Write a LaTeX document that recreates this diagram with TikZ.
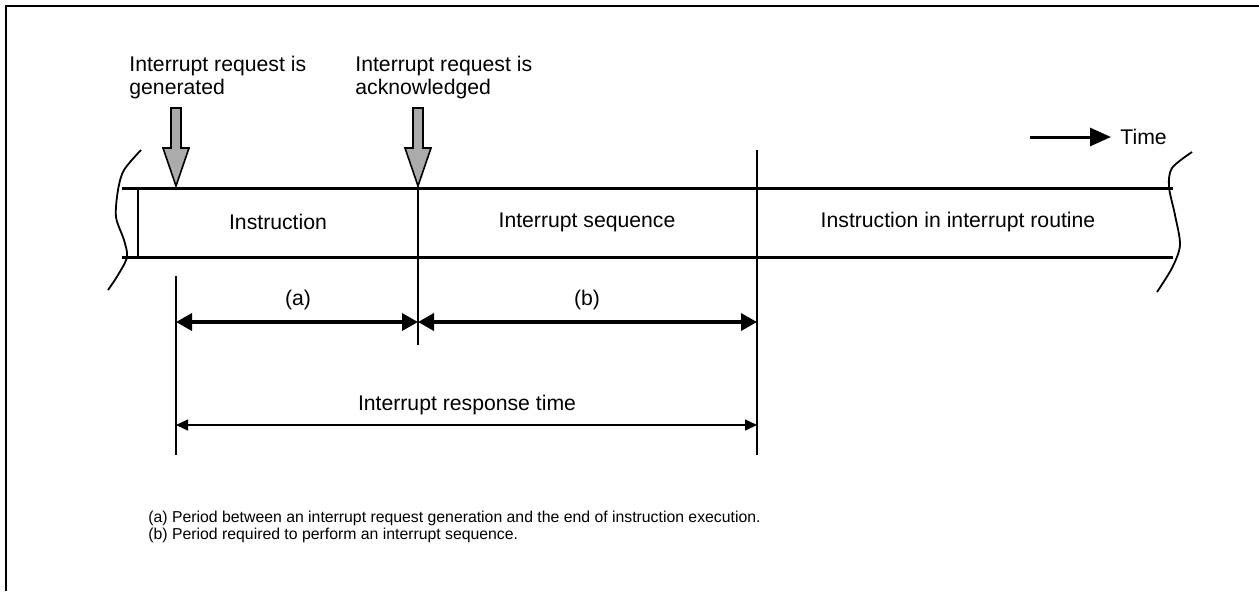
\documentclass[tikz,border=0pt]{standalone}
\usepackage{fontspec}
\setmainfont{Liberation Sans}
\usetikzlibrary{arrows.meta}

\begin{document}
\begin{tikzpicture}[
    x=0.5pt, y=-0.5pt,
    font=\fontsize{10.6}{11.3}\selectfont,
    band/.style={line width=1.5pt},
    divider/.style={line width=0.8pt},
    squiggle/.style={line width=0.9pt},
    reqarrow/.style={draw=black, line width=0.8pt, fill=black!33},
    dimline/.style={{Triangle[length=8pt,width=8.5pt]}-{Triangle[length=8pt,width=8.5pt]}, line width=1.8pt},
    spanline/.style={{Triangle[length=6pt,width=5.5pt]}-{Triangle[length=6pt,width=5.5pt]}, line width=0.7pt},
    timeline/.style={-{Triangle[length=10.5pt,width=9pt]}, line width=1.5pt},
    caption/.style={inner sep=0pt, align=left}
    ]

\useasboundingbox (0,0) rectangle (1259,591);

% outer frame (only top and left edge)
\draw[line width=1pt] (6,591) -- (6,6) -- (1259,6);

% points on the time line
\coordinate (gen)  at (176,188);
\coordinate (ack)  at (418,188);
\coordinate (done) at (757,188);

% the band
\draw[band] (122,188) -- (1173,188);
\draw[band] (122,257) -- (1173,257);
\draw[divider] (138,188) -- (138,257);
\draw[divider] (ack) -- (418,345);
\draw[divider] (757,150) -- (757,455);
\draw[divider] (176,276) -- (176,455);

% torn ends
\draw[squiggle] plot[smooth] coordinates {(141,150) (124,170) (118,190) (116,217) (124,240) (127,257) (118,275) (108,290)};
\draw[squiggle] plot[smooth] coordinates {(1192,152) (1172,168) (1169,187) (1175,215) (1180,245) (1172,268) (1157,292)};

% band contents
\node (instr) at (278,222) {Instruction};
\node (seq)   at (587,222) {Interrupt sequence};
\node (rout)  at (958,222) {Instruction in interrupt routine};

% request arrows
\foreach \c in {176,418}
  \draw[reqarrow] ({\c-5},108) -- ({\c+5},108) -- ({\c+5},148) -- ({\c+13},148)
    -- (\c,186) -- ({\c-13},148) -- ({\c-5},148) -- cycle;

\node[caption, anchor=north west] (genlbl) at (129,56) {Interrupt request is\\generated};
\node[caption, anchor=north west] (acklbl) at (355,56) {Interrupt request is\\acknowledged};

% time direction
\coordinate (t0) at (1030,137);
\coordinate (t1) at (1111,137);
\draw[timeline] (t0) -- (t1);
\node[anchor=west, inner sep=0pt] (time) at (1120,137) {Time};

% periods
\coordinate (a-l) at (176,322);
\coordinate (a-r) at (418,322);
\coordinate (b-r) at (757,322);
\draw[dimline] (a-l) -- (a-r);
\draw[dimline] (a-r) -- (b-r);
\node (alb) at (298,300) {(a)};
\node (blb) at (587,300) {(b)};

\coordinate (r-l) at (176,425);
\coordinate (r-r) at (757,425);
\draw[spanline] (r-l) -- (r-r);
\node (resp) at (467,405) {Interrupt response time};

% notes
\node[caption, anchor=north west, font=\fontsize{7.9}{7.1}\selectfont] (notes) at (148,511)
  {(a) Period between an interrupt request generation and the end of instruction execution.\\
   (b) Period required to perform an interrupt sequence.};

\end{tikzpicture}
\end{document}
